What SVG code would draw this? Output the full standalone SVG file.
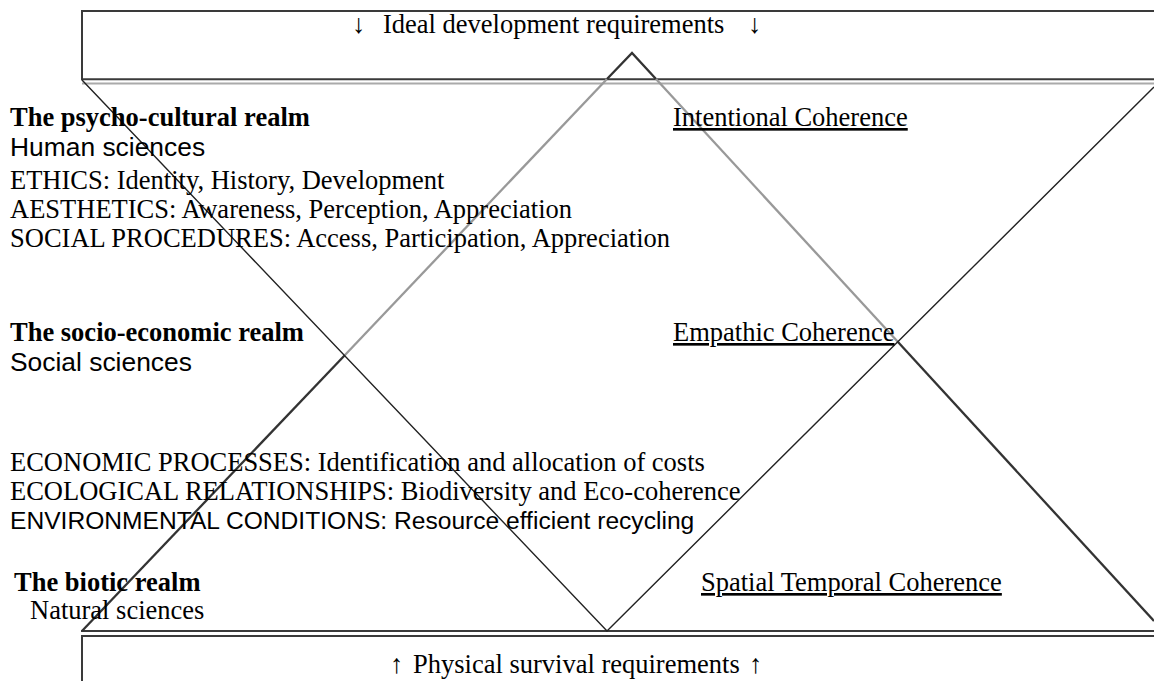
<svg xmlns="http://www.w3.org/2000/svg" width="1154" height="681" viewBox="0 0 1154 681">
<style>
.serif{font-family:"Liberation Serif","Times New Roman",serif;font-size:26.5px;fill:#000}
.bold{font-weight:bold}
.sans{font-family:"Liberation Sans",Arial,sans-serif;font-size:26.4px;fill:#000}
.ul{text-decoration:underline}
.frame{stroke:#3a3a3a;stroke-width:2;fill:none}
.dark{stroke:#333;stroke-width:2.3;fill:none}
.grey{stroke:#999;stroke-width:2.3;fill:none}
.thin{stroke:#222;stroke-width:1.4;fill:none}
</style>
<rect width="1154" height="681" fill="#fff"/>
<g id="top-box">
  <polyline class="frame" points="1156,11 82,11 82,79"/>
  <line class="frame" x1="81" y1="79.2" x2="1156" y2="79.2" stroke="#333"/>
  <line x1="82" y1="83.5" x2="1156" y2="83.5" stroke="#aaa" stroke-width="1.8"/>
  <text class="serif" y="33"><tspan x="352">↓</tspan><tspan x="383">Ideal development requirements</tspan><tspan x="748">↓</tspan></text>
</g>
<g id="bottom-box">
  <line class="frame" x1="81" y1="631" x2="1156" y2="631"/>
  <polyline class="frame" points="1156,636 82,636 82,683" stroke-width="2.5"/>
  <text class="serif" y="673"><tspan x="390">↑</tspan><tspan x="413">Physical survival requirements</tspan><tspan x="749">↑</tspan></text>
</g>
<g id="connectors">
  <!-- upward triangle -->
  <line class="dark" x1="82" y1="631" x2="345" y2="355"/>
  <line class="grey" x1="345" y1="355" x2="607" y2="79"/>
  <polyline class="dark" points="607,79 632,53 656,79"/>
  <line class="grey" x1="656" y1="79" x2="898" y2="342"/>
  <line class="dark" x1="898" y1="342" x2="1154" y2="621"/>
  <!-- inverted triangle -->
  <polyline class="thin" points="82,80 607,631 1154,87"/>
</g>
<g id="psycho-cultural">
  <text class="serif bold" x="10" y="126">The psycho-cultural realm</text>
  <text class="sans" x="10" y="156">Human sciences</text>
  <text class="serif" x="10" y="189">ETHICS: Identity, History, Development</text>
  <text class="serif" x="10" y="218">AESTHETICS: Awareness, Perception, Appreciation</text>
  <text class="serif" x="10" y="247">SOCIAL PROCEDURES: Access, Participation, Appreciation</text>
  <text class="serif ul" x="673" y="126">Intentional Coherence</text>
</g>
<g id="socio-economic">
  <text class="serif bold" x="10" y="341">The socio-economic realm</text>
  <text class="sans" x="10" y="371">Social sciences</text>
  <text class="serif ul" x="673" y="341">Empathic Coherence</text>
  <text class="serif" x="10" y="471">ECONOMIC PROCESSES: Identification and allocation of costs</text>
  <text class="serif" x="10" y="500">ECOLOGICAL RELATIONSHIPS: Biodiversity and Eco-coherence</text>
  <text class="sans" x="10" y="529" style="font-size:24.6px">ENVIRONMENTAL CONDITIONS: Resource efficient recycling</text>
</g>
<g id="biotic">
  <text class="serif bold" x="14" y="591">The biotic realm</text>
  <text class="serif" x="30" y="619">Natural sciences</text>
  <text class="serif ul" x="701" y="591">Spatial Temporal Coherence</text>
</g>
</svg>
